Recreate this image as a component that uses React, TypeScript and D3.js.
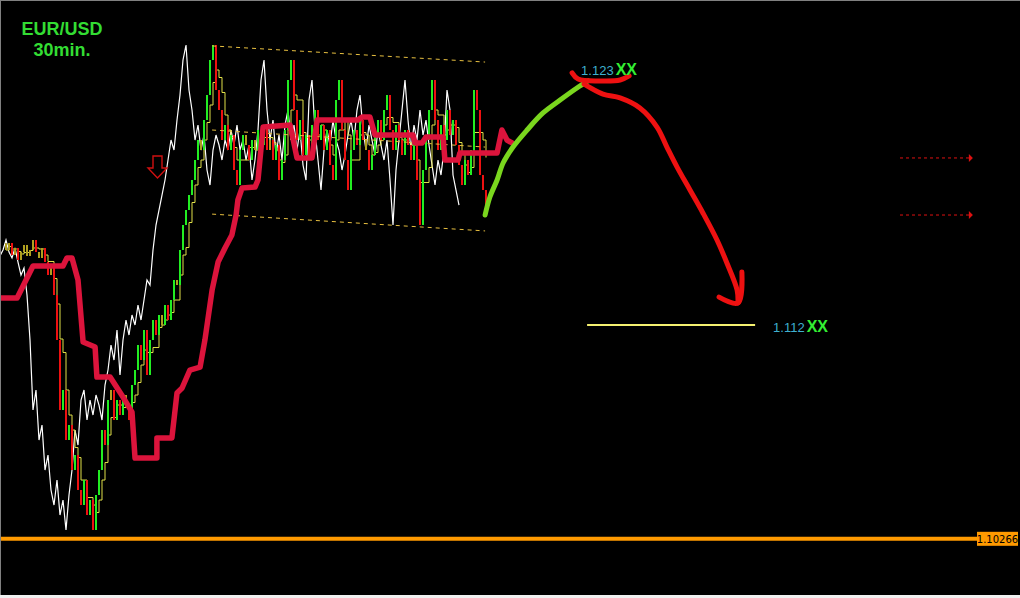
import { useEffect, useRef } from 'react';
import * as d3 from 'd3';

// EUR/USD 30min closes (one bar every 3px)
const closes = [
  1.11530, 1.11561, 1.11508, 1.11539, 1.11486, 1.11521, 1.11552, 1.11504, 1.11530, 1.11574,
  1.11521, 1.11495, 1.11539, 1.11477, 1.11420, 1.11451, 1.11332, 1.11134, 1.10826, 1.10914,
  1.10694, 1.10760, 1.10562, 1.10628, 1.10474, 1.10408, 1.10518, 1.10364, 1.10430, 1.10298,
  1.10452, 1.10562, 1.10738, 1.10672, 1.10870, 1.10914, 1.10782, 1.10870, 1.10804, 1.10892,
  1.10848, 1.10782, 1.10936, 1.11002, 1.11112, 1.11046, 1.11178, 1.10980, 1.11134, 1.11222,
  1.11156, 1.11244, 1.11200, 1.11288, 1.11222, 1.11310, 1.11398, 1.11376, 1.11530, 1.11640,
  1.11706, 1.11772, 1.11838, 1.11926, 1.12014, 1.11970, 1.12102, 1.12212, 1.12366, 1.12432,
  1.12234, 1.12146, 1.12014, 1.12080, 1.11970, 1.12036, 1.11882, 1.11816, 1.11970, 1.12036,
  1.11992, 1.11926, 1.12014, 1.11970, 1.12058, 1.11992, 1.12080, 1.11970, 1.12014, 1.11926,
  1.11992, 1.11838, 1.11926, 1.12058, 1.12278, 1.12366, 1.12146, 1.12014, 1.12102, 1.11948,
  1.12036, 1.11926, 1.12080, 1.12146, 1.12014, 1.12080, 1.11970, 1.12058, 1.11904, 1.11838,
  1.12190, 1.12278, 1.12058, 1.11926, 1.11794, 1.11970, 1.12058, 1.11992, 1.12102, 1.12014,
  1.11970, 1.11882, 1.11948, 1.12036, 1.12102, 1.12014, 1.12146, 1.12212, 1.12058, 1.11970,
  1.12080, 1.12014, 1.11948, 1.12058, 1.11992, 1.11926, 1.12014, 1.11838, 1.11640, 1.11882,
  1.12014, 1.12146, 1.12278, 1.12102, 1.11970, 1.12080, 1.12014, 1.12146, 1.12036, 1.12102,
  1.11992, 1.11904, 1.11816, 1.11926, 1.11860, 1.11970, 1.12234, 1.12146, 1.11860, 1.11794,
  1.11728,
];

// thick crimson step line: bar index / price
const kijunIdx = [-2, 3.7, 9, 19, 20.3, 22, 24, 25.7, 29.7, 30.3, 34.7, 39, 42, 43, 50.3, 50.3, 55.3, 57, 58.7, 61.3, 64.7, 66.3, 68.7, 70.7, 73, 75.3, 76.7, 77.3, 78.7, 83, 84, 85.7, 94.7, 97, 102, 103.7, 117.3, 118.7, 121.3, 123, 135.7, 136.3, 138.7, 140, 145.7, 146.3, 150.7, 151.3, 163.7, 165.3, 167, 168.7];
const kijunVal = [1.11319, 1.11319, 1.11460, 1.11460, 1.11495, 1.11495, 1.11398, 1.11125, 1.11103, 1.10971, 1.10971, 1.10883, 1.10817, 1.10615, 1.10615, 1.10703, 1.10703, 1.10901, 1.10923, 1.11002, 1.11015, 1.11134, 1.11354, 1.11477, 1.11539, 1.11596, 1.11684, 1.11750, 1.11803, 1.11807, 1.11838, 1.12071, 1.12080, 1.11935, 1.11935, 1.12102, 1.12102, 1.12115, 1.12115, 1.12036, 1.12036, 1.12001, 1.12001, 1.12027, 1.12027, 1.11926, 1.11926, 1.11957, 1.11957, 1.12058, 1.12014, 1.12001];

// dashed channel: start/end bar index, prices for top, middle, bottom
const channelIdx = [68.7, 159.7];
const channelTop = [1.12428, 1.12357];
const channelMid = [1.12058, 1.11983];
const channelLow = [1.11688, 1.11614];

// projection drawn by hand
const upIdx = [159.7, 161.3, 163.7, 165.7, 169, 173.7, 179, 184.7, 190.3, 194];
const upVal = [1.11684, 1.11763, 1.11838, 1.11913, 1.11983, 1.12058, 1.12133, 1.12190, 1.12243, 1.12274];
const downIdx = [192.7, 199, 204.7, 211.3, 217, 220.3, 223.7, 228, 232.3, 237, 240.3, 243.7, 244];
const downVal = [1.12260, 1.12216, 1.12199, 1.12155, 1.12071, 1.11983, 1.11895, 1.11794, 1.11693, 1.11574, 1.11473, 1.11354, 1.11297];
const headIdx = [237.7, 244, 245.3];
const headVal = [1.11323, 1.11297, 1.11433];
const capIdx = [188.7, 190.7, 198, 204.7, 207.7];
const capVal = [1.12309, 1.12282, 1.12274, 1.12278, 1.12296];

const targetHigh = 1.123;
const targetLow = 1.112;
const targetLowIdx = [193.7, 249.7];
const levelPrices = [1.11935, 1.11684];
const levelIdx = [298, 322.3];
const lastPrice = 1.10266;
const signalIdx = 50.5;
const signalVal = 1.11891;
const chikouShift = 9;
const titleLines = ['EUR/USD', '30min.'];

export default function App() {
  const svgRef = useRef<SVGSVGElement>(null);

  useEffect(() => {
    if (!svgRef.current) return;
    const svg = d3.select(svgRef.current);
    svg.selectAll('*').remove();

    const width = 1020;
    const height = 598;

    const x = d3.scaleLinear().domain([0, 338]).range([6, 1020]);
    const y = d3.scaleLinear().domain([1.09999, 1.1263]).range([598, 0]);

    svg.append('rect').attr('width', width).attr('height', height).attr('fill', '#000');

    // chikou (white) = closes shifted back
    const white = d3.line<number>()
      .x((_, i) => x(i - chikouShift))
      .y(d => y(d));
    svg.append('path').datum(closes).attr('d', white)
      .attr('fill', 'none').attr('stroke', '#fff').attr('stroke-width', 1.2);

    // tenkan: rolling midpoint of closes
    const tenkan = closes.map((_, i) => {
      const w = closes.slice(Math.max(0, i - 3), i + 1);
      return ((d3.max(w) as number) + (d3.min(w) as number)) / 2;
    });
    svg.append('path').datum(tenkan)
      .attr('d', d3.line<number>().x((_, i) => x(i)).y(d => y(d)).curve(d3.curveStepAfter))
      .attr('fill', 'none').attr('stroke', '#e0e048').attr('stroke-width', 1);

    // bars
    svg.append('g').selectAll('line').data(closes).enter().append('line')
      .attr('x1', (_, i) => x(i)).attr('x2', (_, i) => x(i))
      .attr('y1', (d, i) => y(i === 0 ? d + 0.0003 : closes[i - 1]))
      .attr('y2', d => y(d))
      .attr('stroke', (d, i) => {
        const o = i === 0 ? d + 0.0003 : closes[i - 1];
        if (Math.abs(d - o) < 0.0005) return '#b0a020';
        return d >= o ? '#22ee22' : '#ee1111';
      })
      .attr('stroke-width', 2);

    // channel
    const dash = (vals: number[]) => {
      svg.append('line')
        .attr('x1', x(channelIdx[0])).attr('x2', x(channelIdx[1]))
        .attr('y1', y(vals[0])).attr('y2', y(vals[1]))
        .attr('stroke', '#e8c040').attr('stroke-width', 1)
        .attr('stroke-dasharray', '4,4');
    };
    dash(channelTop);
    dash(channelMid);
    dash(channelLow);

    // kijun
    const kij = kijunIdx.map((k, i) => [k, kijunVal[i]] as [number, number]);
    svg.append('path').datum(kij)
      .attr('d', d3.line<[number, number]>().x(d => x(d[0])).y(d => y(d[1])))
      .attr('fill', 'none').attr('stroke', '#dc143c').attr('stroke-width', 5.5)
      .attr('stroke-linejoin', 'round').attr('stroke-linecap', 'round');

    // signal arrow (down, outline)
    const sx = x(signalIdx);
    const sy = y(signalVal);
    svg.append('path')
      .attr('d', `M${sx - 4.5},${sy - 12}h9v12h5l-9.5,10l-9.5,-10h5z`)
      .attr('fill', 'none').attr('stroke', '#d01010').attr('stroke-width', 1.4);

    const hand = (ix: number[], vs: number[], color: string, w: number) => {
      const pts = ix.map((k, i) => [k, vs[i]] as [number, number]);
      svg.append('path').datum(pts)
        .attr('d', d3.line<[number, number]>().x(d => x(d[0])).y(d => y(d[1])).curve(d3.curveCatmullRom))
        .attr('fill', 'none').attr('stroke', color).attr('stroke-width', w)
        .attr('stroke-linecap', 'round').attr('stroke-linejoin', 'round');
    };
    hand(upIdx, upVal, '#7ad61e', 5);
    hand(downIdx, downVal, '#ee1111', 5);
    hand(headIdx, headVal, '#ee1111', 5);
    hand(capIdx, capVal, '#ee1111', 5);

    // target labels
    const label = (ix: number, price: number, dy: number) => {
      const t = svg.append('text')
        .attr('x', x(ix)).attr('y', y(price) + dy)
        .style('font-family', 'Arial, "Liberation Sans", sans-serif');
      t.append('tspan').attr('fill', '#3fb0d0').style('font-size', '13px')
        .text(price.toFixed(3));
      t.append('tspan').attr('fill', '#33ee33').style('font-size', '16px')
        .style('font-weight', 'bold').attr('dx', 2).text('XX');
    };
    label(191.7, targetHigh, 0);
    label(255.7, targetLow, 7);

    svg.append('line')
      .attr('x1', x(targetLowIdx[0])).attr('x2', x(targetLowIdx[1]))
      .attr('y1', y(targetLow)).attr('y2', y(targetLow))
      .attr('stroke', '#f4f070').attr('stroke-width', 2);

    // red dashed level arrows
    levelPrices.forEach(p => {
      svg.append('line')
        .attr('x1', x(levelIdx[0])).attr('x2', x(levelIdx[1]) - 3)
        .attr('y1', y(p)).attr('y2', y(p))
        .attr('stroke', '#dd1111').attr('stroke-width', 1).attr('stroke-dasharray', '3,3');
      const ex = x(levelIdx[1]);
      svg.append('path')
        .attr('d', `M${ex - 4},${y(p) - 4}L${ex},${y(p)}L${ex - 4},${y(p) + 4}z`)
        .attr('fill', '#dd1111');
    });

    // last price line
    const ly = y(lastPrice) + 1.5;
    svg.append('line').attr('x1', 0).attr('x2', 978).attr('y1', ly).attr('y2', ly)
      .attr('stroke', '#ff9a00').attr('stroke-width', 4);
    svg.append('rect').attr('x', 977).attr('y', ly - 7).attr('width', 41).attr('height', 14)
      .attr('fill', '#ff9a00');
    svg.append('text').attr('x', 997.5).attr('y', ly + 4)
      .attr('text-anchor', 'middle').attr('fill', '#000')
      .style('font-family', 'Tahoma, "DejaVu Sans", sans-serif').style('font-size', '10px')
      .text(lastPrice.toFixed(5));

    // title, two lines
    titleLines.forEach((t, i) => {
      svg.append('text').attr('x', 62).attr('y', 35 + i * 21)
        .attr('text-anchor', 'middle').attr('fill', '#33dd33')
        .style('font-family', 'Arial, "Liberation Sans", sans-serif')
        .style('font-size', '18px').style('font-weight', 'bold')
        .text(t);
    });

    // frame
    svg.append('line').attr('x1', 0).attr('x2', width).attr('y1', 0.5).attr('y2', 0.5)
      .attr('stroke', '#808080');
    svg.append('line').attr('x1', 0.5).attr('x2', 0.5).attr('y1', 0).attr('y2', 595)
      .attr('stroke', '#808080');
    svg.append('rect').attr('x', 0).attr('y', 595).attr('width', width).attr('height', 3)
      .attr('fill', '#f0f0f0');
  }, []);

  return (
    <div style={{ position: 'absolute', left: 0, top: 0 }}>
      <svg ref={svgRef} width={1020} height={598} style={{ display: 'block' }} />
    </div>
  );
}
